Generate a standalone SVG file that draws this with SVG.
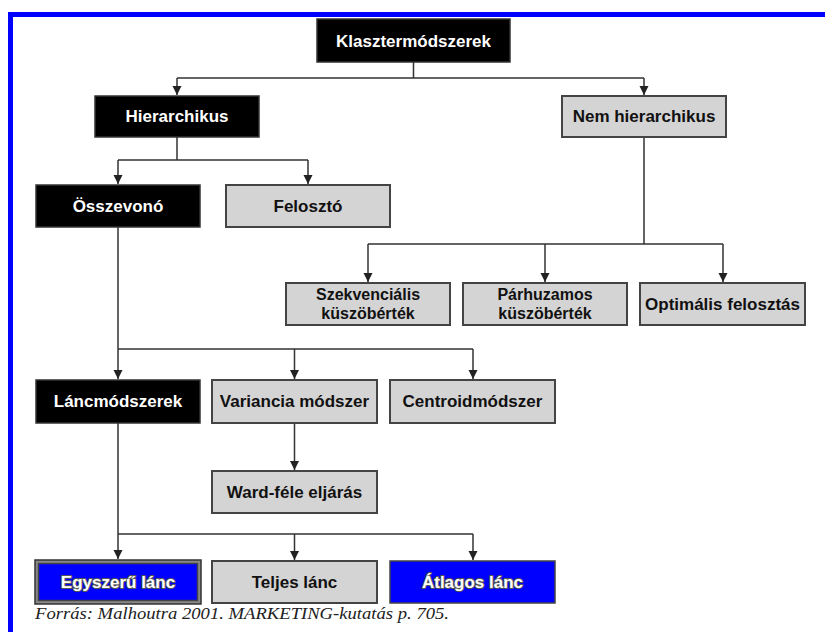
<svg xmlns="http://www.w3.org/2000/svg" width="825" height="632" viewBox="0 0 825 632">
<defs>
<marker id="arr" markerUnits="userSpaceOnUse" markerWidth="10" markerHeight="12" refX="9" refY="4.5" orient="auto">
<path d="M0,0 L9,4.5 L0,9 Z" fill="#222"/>
</marker>
<style>
.blk{fill:#000;stroke:#333;stroke-width:1.5}
.gry{fill:#d4d4d4;stroke:#444;stroke-width:2}
.blu{fill:#0000ff;stroke:#444;stroke-width:1.5}
.t{font-family:"Liberation Sans",Arial,sans-serif;font-weight:bold;font-size:17px;text-anchor:middle}
.t2{font-size:16px}
.tw{fill:#fff}
.tb{fill:#111}
.to{fill:#fff;stroke:#555;stroke-width:2;paint-order:stroke;stroke-linejoin:round}
.c{fill:none;stroke:#333;stroke-width:1.5}
</style>
</defs>
<rect width="825" height="632" fill="#fff"/>
<rect x="8" y="12" width="817" height="5" fill="#0000ff"/>
<rect x="8" y="12" width="5" height="620" fill="#0000ff"/>

<g id="connectors">
<path class="c" d="M413.5,62 V78 M177,78 H644"/>
<path class="c" d="M177,78 V95" marker-end="url(#arr)"/>
<path class="c" d="M644,78 V95" marker-end="url(#arr)"/>
<path class="c" d="M177,137 V160 M118,160 H308"/>
<path class="c" d="M118,160 V184" marker-end="url(#arr)"/>
<path class="c" d="M308,160 V184" marker-end="url(#arr)"/>
<path class="c" d="M644,137 V244 M368,244 H723"/>
<path class="c" d="M368,244 V282" marker-end="url(#arr)"/>
<path class="c" d="M545,244 V282" marker-end="url(#arr)"/>
<path class="c" d="M723,244 V282" marker-end="url(#arr)"/>
<path class="c" d="M118,227 V349 M118,349 H473"/>
<path class="c" d="M118,349 V379" marker-end="url(#arr)"/>
<path class="c" d="M294.5,349 V379" marker-end="url(#arr)"/>
<path class="c" d="M473,349 V379" marker-end="url(#arr)"/>
<path class="c" d="M294.5,423 V470" marker-end="url(#arr)"/>
<path class="c" d="M118,423 V534 M118,534 H473"/>
<path class="c" d="M118,534 V559" marker-end="url(#arr)"/>
<path class="c" d="M294.5,534 V560" marker-end="url(#arr)"/>
<path class="c" d="M473,534 V560" marker-end="url(#arr)"/>
</g>

<g id="klaszter"><rect class="blk" x="317" y="19" width="193" height="43"/><text class="t tw" x="413.5" y="47">Klasztermódszerek</text></g>
<g id="hierarchikus"><rect class="blk" x="95" y="96" width="164" height="41"/><text class="t tw" x="177" y="122">Hierarchikus</text></g>
<g id="nemhierarchikus"><rect class="gry" x="562" y="96" width="164" height="41"/><text class="t tb" x="644" y="122">Nem hierarchikus</text></g>
<g id="osszevono"><rect class="blk" x="36" y="185" width="164" height="42"/><text class="t tw" x="118" y="212">Összevonó</text></g>
<g id="feloszto"><rect class="gry" x="226" y="185" width="164" height="42"/><text class="t tb" x="308" y="212">Felosztó</text></g>
<g id="szekvencialis"><rect class="gry" x="286" y="283" width="164" height="42"/><text class="t t2 tb" x="368" y="300">Szekvenciális</text><text class="t t2 tb" x="368" y="319">küszöbérték</text></g>
<g id="parhuzamos"><rect class="gry" x="463" y="283" width="164" height="42"/><text class="t t2 tb" x="545" y="300">Párhuzamos</text><text class="t t2 tb" x="545" y="319">küszöbérték</text></g>
<g id="optimalis"><rect class="gry" x="640" y="283" width="165" height="42"/><text class="t tb" x="722.5" y="310">Optimális felosztás</text></g>
<g id="lanc"><rect class="blk" x="36" y="380" width="164" height="43"/><text class="t tw" x="118" y="407">Láncmódszerek</text></g>
<g id="variancia"><rect class="gry" x="212" y="380" width="165" height="43"/><text class="t tb" x="294.5" y="407">Variancia módszer</text></g>
<g id="centroid"><rect class="gry" x="390" y="380" width="165" height="43"/><text class="t tb" x="472.5" y="407">Centroidmódszer</text></g>
<g id="ward"><rect class="gry" x="212" y="471" width="165" height="42"/><text class="t tb" x="294.5" y="498">Ward-féle eljárás</text></g>
<g id="egyszeru"><rect x="35" y="560" width="166" height="44" fill="#888" stroke="#333" stroke-width="1.5"/><rect class="blu" x="38.5" y="563.5" width="159" height="37"/><text class="t to" x="118" y="588">Egyszerű lánc</text></g>
<g id="teljes"><rect class="gry" x="212" y="561" width="165" height="42"/><text class="t tb" x="294.5" y="588">Teljes lánc</text></g>
<g id="atlagos"><rect class="blu" x="390" y="561" width="165" height="42"/><text class="t to" x="472.5" y="588">Átlagos lánc</text></g>

<text x="35" y="619" font-family="'Liberation Serif','Times New Roman',serif" font-style="italic" font-size="17.5" fill="#222" textLength="414" lengthAdjust="spacingAndGlyphs">Forrás: Malhoutra 2001. MARKETING-kutatás p. 705.</text>
</svg>
